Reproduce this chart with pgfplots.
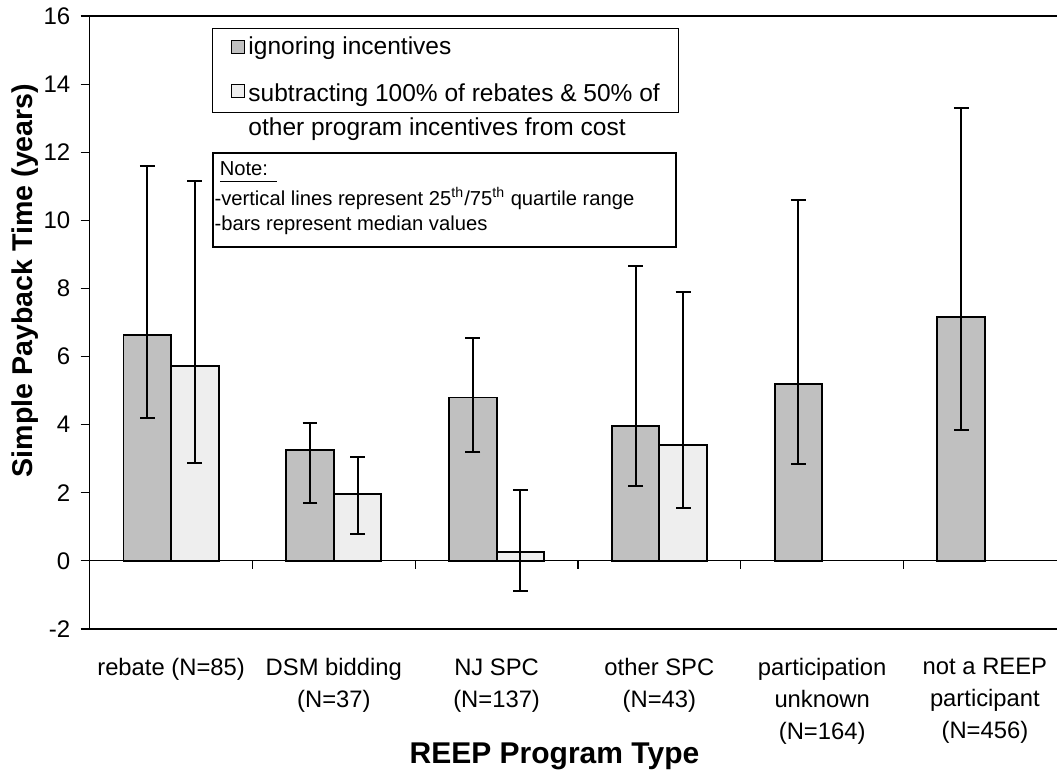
\documentclass[border=0pt]{standalone}
\usepackage{pgfplots}
\pgfplotsset{compat=1.18}
\usepackage{pgfplotstable}
\usepackage{fontspec}
\setmainfont{Liberation Sans}
\definecolor{barA}{HTML}{C0C0C0}
\definecolor{barB}{HTML}{EEEEEE}

\pgfplotstableread{
x y ep em
0 6.64 4.96 2.44
1 3.26 0.79 1.56
2 4.80 1.75 1.60
3 3.95 4.70 1.75
4 5.20 5.40 2.35
5 7.15 6.15 3.30
}\dataA
\pgfplotstableread{
x y ep em
0 5.73 5.43 2.86
1 1.97 1.08 1.17
2 0.27 1.82 1.16
3 3.40 4.50 1.85
}\dataB

\begin{document}
\begin{tikzpicture}
\begin{axis}[
  scale only axis, width=483.65pt, height=306.5pt,
  xmin=-0.5, xmax=5.443, ymin=-2, ymax=16,
  axis x line*=box, axis y line*=left,
  axis line style={black, line width=0.6pt},
  ytick={-2,0,...,16},
  yticklabels={-2,0,2,4,6,8,10,12,14,16},
  tick align=outside, major tick length=4.5pt,
  ytick style={black, line width=0.6pt},
  yticklabel style={font=\fontsize{12}{14}\selectfont, anchor=east, inner sep=0pt, xshift=-5pt},
  xtick={0,...,5},
  xtick style={draw=none},
  xticklabels={rebate (N=85), DSM bidding\\(N=37), NJ SPC\\(N=137), other SPC\\(N=43), participation\\unknown\\(N=164), not a REEP\\participant\\(N=456)},
  xticklabel style={font=\fontsize{11.9}{16}\selectfont, align=center, anchor=north, inner sep=0pt, yshift=-10pt},
  ylabel={Simple Payback Time (years)},
  ylabel style={font=\fontsize{14.3}{16}\selectfont\bfseries, at={(axis description cs:-0.0669,0.5685)}, anchor=center},
  xlabel={REEP Program Type},
  xlabel style={font=\fontsize{15}{16}\selectfont\bfseries, at={(axis description cs:0.4805,-0.2194)}, anchor=base},
  ybar=0pt, bar width=0.292,
  every axis plot post/.append style={legend image code/.code={\draw[##1, line width=0.5pt] (0pt,-3.2pt) rectangle (6.3pt,3.2pt);}},
  legend style={at={(rel axis cs:0.1264,0.9804)}, anchor=north west, draw=black, line width=0.5pt,
    font=\fontsize{12.25}{17}\selectfont, inner xsep=9.3pt, inner ysep=2pt, row sep=6pt,
    nodes={inner xsep=0pt},
    /tikz/every odd column/.append style={column sep=1.9pt},
    cells={anchor=west}},
  legend cell align=left,
  clip=false,
]
\addplot[fill=barA, draw=black, line width=0.9pt, bar shift=-0.146,
  error bars/.cd, y dir=both, y explicit,
  error bar style={line width=0.9pt, black},
  error mark options={rotate=90, mark size=3.7pt, line width=0.9pt, black}]
  table[x=x, y=y, y error plus=ep, y error minus=em] {\dataA};
\addlegendentry{ignoring incentives}
\addplot[fill=barB, draw=black, line width=0.9pt, bar shift=0.146,
  error bars/.cd, y dir=both, y explicit,
  error bar style={line width=0.9pt, black},
  error mark options={rotate=90, mark size=3.7pt, line width=0.9pt, black}]
  table[x=x, y=y, y error plus=ep, y error minus=em] {\dataB};
\addlegendentry{\begin{tabular}[t]{@{}l@{}}subtracting 100\% of rebates \& 50\% of\\other program incentives from cost\rule[-6.6pt]{0pt}{1pt}\end{tabular}}
\draw[black, line width=0.6pt] (axis cs:-0.5,0) -- (axis cs:5.443,0);
\draw[black, line width=0.6pt] (axis cs:0.5,0) -- ([yshift=-4pt]axis cs:0.5,0);
\draw[black, line width=0.6pt] (axis cs:1.5,0) -- ([yshift=-4pt]axis cs:1.5,0);
\draw[black, line width=0.6pt] (axis cs:2.5,0) -- ([yshift=-4pt]axis cs:2.5,0);
\draw[black, line width=0.6pt] (axis cs:3.5,0) -- ([yshift=-4pt]axis cs:3.5,0);
\draw[black, line width=0.6pt] (axis cs:4.5,0) -- ([yshift=-4pt]axis cs:4.5,0);
\node[draw=black, line width=0.8pt, anchor=north west, inner sep=0pt] at (rel axis cs:0.1264,0.7781)
  {\parbox[c][47pt][t]{231.5pt}{\fontsize{10.1}{12.5}\selectfont\leftskip=0.9pt\relax
   \rule{0pt}{11.2pt}\hspace*{2.6pt}\rlap{\rule[-3.5pt]{28.5pt}{0.6pt}}Note:\\[2.5pt]
   -vertical lines represent 25\textsuperscript{th}/75\textsuperscript{th} quartile range\\
   -bars represent median values}};
\coordinate (sw) at (rel axis cs:0,0);
\coordinate (ne) at (rel axis cs:1,1);
\end{axis}
\pgfresetboundingbox
\path[use as bounding box] ([xshift=-44.85pt,yshift=-70pt]sw) rectangle ([yshift=8pt]ne);
\end{tikzpicture}
\end{document}
